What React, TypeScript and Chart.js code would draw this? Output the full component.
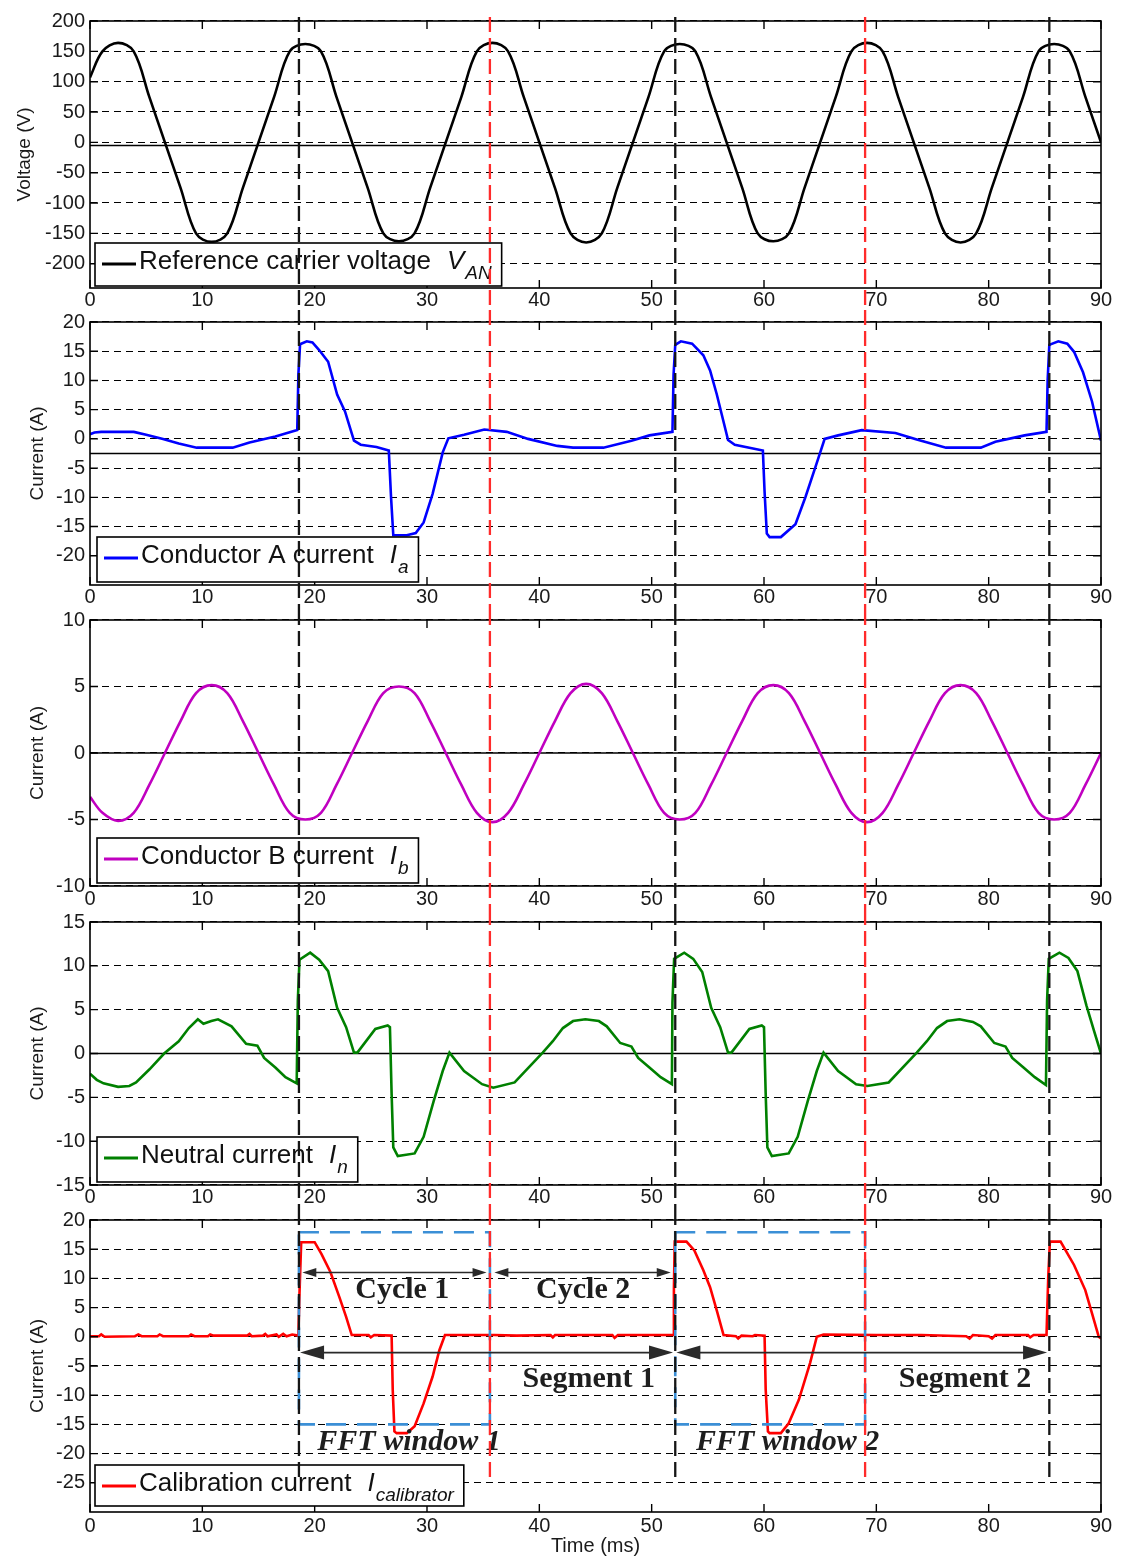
import React, { useEffect, useRef } from 'react';
import { Chart, registerables } from 'chart.js';

Chart.register(...registerables);

// ---------------- data ----------------
const timeTicks = [0, 10, 20, 30, 40, 50, 60, 70, 80, 90];

const voltageTicks = [-200, -150, -100, -50, 0, 50, 100, 150, 200];
const currentATicks = [-20, -15, -10, -5, 0, 5, 10, 15, 20];
const currentBTicks = [-10, -5, 0, 5, 10];
const neutralTicks = [-15, -10, -5, 0, 5, 10, 15];
const calibTicks = [-25, -20, -15, -10, -5, 0, 5, 10, 15, 20];

// sampled time (ms) for the two sinusoidal traces
const sineTimeMs = [
  0, 1.11, 2.5, 3.89, 5.28, 6.67, 8.06, 9.44, 10.83, 12.22, 13.61, 15.0, 16.39, 17.78,
  19.17, 20.56, 21.94, 23.33, 24.72, 26.11, 27.5, 28.89, 30.28, 31.67, 33.06, 34.44,
  35.83, 37.22, 38.61, 40.0, 41.39, 42.78, 44.17, 45.56, 46.94, 48.33, 49.72, 51.11,
  52.5, 53.89, 55.28, 56.67, 58.06, 59.44, 60.83, 62.22, 63.61, 65.0, 66.39, 67.78,
  69.17, 70.56, 71.94, 73.33, 74.72, 76.11, 77.5, 78.89, 80.28, 81.67, 83.06, 84.44,
  85.83, 87.22, 88.61, 90.0,
];
const vanVolts = [
  107, 150, 164, 150, 75, 0, -75, -150, -164, -150, -75, 0, 75, 150,
  162, 150, 75, 0, -75, -150, -163, -150, -75, 0, 75, 150,
  164, 150, 75, 0, -75, -150, -165, -150, -75, 0, 75, 150,
  162, 150, 75, 0, -75, -150, -163, -150, -75, 0, 75, 150,
  164, 150, 75, 0, -75, -150, -165, -150, -75, 0, 75, 150,
  162, 150, 75, 0,
];
const ibAmps = [
  -3.3, -4.5, -5.1, -4.5, -2.4, 0, 2.4, 4.5, 5.1, 4.5, 2.4, 0, -2.4, -4.5,
  -5.0, -4.5, -2.4, 0, 2.4, 4.5, 5.0, 4.5, 2.4, 0, -2.4, -4.5,
  -5.2, -4.5, -2.4, 0, 2.4, 4.5, 5.2, 4.5, 2.4, 0, -2.4, -4.5,
  -5.0, -4.5, -2.4, 0, 2.4, 4.5, 5.1, 4.5, 2.4, 0, -2.4, -4.5,
  -5.2, -4.5, -2.4, 0, 2.4, 4.5, 5.1, 4.5, 2.4, 0, -2.4, -4.5,
  -5.0, -4.5, -2.4, 0,
];

const iaTimeMs = [
  0.0, 0.4, 1.0, 3.9, 5.0, 6.5, 7.9, 9.5, 12.7, 14.2, 16.5, 18.45, 18.55, 18.7, 19.3, 19.8,
  20.4, 21.2, 22.0, 22.7, 23.5, 24.1, 25.5, 26.6, 26.8, 27.0, 28.2, 29.0, 29.7, 30.5, 31.4,
  31.9, 33.3, 35.1, 37.1, 39.0, 41.6, 43.0, 45.7, 48.2, 49.8, 51.85, 51.95, 52.1, 52.6, 53.6,
  54.6, 55.2, 55.8, 56.8, 57.4, 59.9, 60.05, 60.25, 60.5, 61.5, 62.8, 63.7, 64.7, 65.4, 66.6,
  68.7, 71.7, 73.6, 76.2, 79.3, 80.6, 83.2, 85.15, 85.25, 85.4, 86.2, 87.0, 87.6, 88.4, 89.2, 90.0,
];
const iaAmps = [
  0.8, 1.1, 1.2, 1.2, 0.7, 0.0, -0.8, -1.5, -1.5, -0.6, 0.4, 1.5, 11.0, 16.2, 16.7, 16.5,
  15.2, 13.2, 7.6, 4.7, -0.3, -1.0, -1.4, -2.0, -10.0, -16.5, -16.5, -16.1, -14.3, -9.4, -2.3,
  0.1, 0.7, 1.6, 1.2, 0.0, -1.2, -1.5, -1.5, -0.3, 0.6, 1.2, 11.0, 16.1, 16.7, 16.3,
  14.3, 11.7, 7.6, -0.2, -1.0, -2.0, -9.0, -16.2, -16.8, -16.8, -14.6, -9.9, -4.1, 0.0, 0.6,
  1.5, 1.0, -0.1, -1.5, -1.5, -0.5, 0.6, 1.2, 10.0, 16.1, 16.7, 16.3, 14.9, 11.4, 6.4, -0.3,
];

const inTimeMs = [
  0.0, 0.6, 1.2, 2.5, 3.5, 4.1, 5.3, 6.6, 7.9, 8.8, 9.6, 10.1, 10.8, 11.4, 12.6, 13.9, 14.9,
  15.5, 16.5, 17.4, 18.4, 18.5, 18.65, 19.6, 20.4, 21.2, 22.0, 22.8, 23.5, 23.8, 25.4, 26.5,
  26.7, 26.85, 27.0, 27.4, 28.9, 29.7, 30.6, 31.4, 32.0, 33.3, 34.9, 35.9, 37.8, 40.3, 41.2,
  42.1, 43.0, 44.1, 45.3, 46.0, 47.2, 48.2, 48.8, 49.8, 50.8, 51.8, 51.85, 52.0, 52.9, 53.7,
  54.5, 55.3, 56.1, 56.8, 57.1, 58.7, 59.8, 60.0, 60.15, 60.3, 60.7, 62.2, 63.0, 63.9, 64.7,
  65.3, 66.6, 68.2, 69.2, 71.1, 73.6, 74.5, 75.4, 76.3, 77.4, 78.6, 79.3, 80.5, 81.5, 82.1,
  83.1, 84.1, 85.1, 85.2, 85.35, 86.3, 87.1, 87.9, 88.7, 89.4, 90.0,
];
const inAmps = [
  -2.3, -3.0, -3.4, -3.8, -3.7, -3.3, -1.8, 0.0, 1.4, 2.9, 3.9, 3.4, 3.7, 3.9, 3.1, 1.1, 0.9,
  -0.5, -1.6, -2.7, -3.4, 6.0, 10.7, 11.5, 10.7, 9.4, 5.2, 3.0, 0.1, 0.1, 2.8, 3.2,
  3.0, -4.6, -10.7, -11.7, -11.4, -9.5, -5.4, -2.0, 0.1, -2.0, -3.5, -3.9, -3.3, 0.1, 1.4,
  2.9, 3.7, 3.9, 3.7, 3.1, 1.2, 0.8, -0.5, -1.6, -2.7, -3.5, 5.8, 10.8, 11.5, 10.8,
  9.3, 5.2, 3.0, 0.1, 0.1, 2.8, 3.2, 3.0, -4.6, -10.7, -11.7, -11.4, -9.5, -5.4, -2.0,
  0.1, -2.0, -3.5, -3.7, -3.3, 0.1, 1.4, 2.9, 3.7, 3.9, 3.6, 3.1, 1.2, 0.8, -0.5,
  -1.6, -2.7, -3.6, 6.0, 10.8, 11.5, 10.9, 9.4, 5.5, 2.5, 0.0,
];

const icalTimeMs = [
  0, 0.8, 1.0, 1.3, 4.0, 4.3, 4.6, 6.0, 6.2, 6.5, 8.8, 9.0, 9.3, 10.5, 10.7, 11.0, 14.0, 14.2,
  14.4, 15.4, 15.6, 15.8, 16.6, 16.8, 17.2, 17.5, 18.0, 18.55, 18.65, 18.8, 20.0, 20.6, 21.4,
  22.2, 22.8, 23.3, 24.8, 25.0, 25.3, 26.85, 26.95, 27.1, 27.3, 28.2, 28.9, 29.7, 30.5, 31.1,
  31.6, 36.0, 38.0, 41.0, 41.2, 41.4, 46.5, 46.7, 47.0, 51.9, 51.98, 52.05, 53.1, 53.8, 54.6,
  55.2, 55.8, 56.4, 57.5, 57.7, 58.0, 59.0, 59.2, 60.05, 60.15, 60.35, 60.5, 61.5, 62.2, 63.1,
  64.1, 64.7, 65.3, 70.0, 74.0, 78.0, 78.3, 78.6, 80.0, 80.3, 80.6, 83.5, 83.7, 84.0, 85.15,
  85.3, 85.45, 86.4, 87.6, 88.6, 89.2, 89.8, 90.0,
];
const icalAmps = [
  0.1, 0.1, 0.4, 0.0, 0.1, 0.4, 0.1, 0.1, 0.4, 0.1, 0.1, 0.4, 0.1, 0.1, 0.4, 0.2, 0.2, 0.5,
  0.1, 0.2, 0.5, 0.1, 0.4, 0.0, 0.5, 0.1, 0.4, 0.2, 7.5, 16.2, 16.2, 14.2, 11.1,
  6.8, 3.4, 0.3, 0.3, -0.1, 0.3, 0.2, -9.1, -16.2, -16.5, -16.5, -15.3, -11.4, -6.8, -2.3,
  0.3, 0.3, 0.2, 0.3, -0.1, 0.3, 0.3, -0.2, 0.3, 0.3, 8.0, 16.3, 16.3, 14.8, 11.4,
  8.5, 4.5, 0.3, 0.1, -0.3, 0.2, 0.1, 0.3, 0.2, -9.0, -16.2, -16.5, -16.5, -14.8, -10.8,
  -4.5, 0.0, 0.4, 0.3, 0.3, 0.1, -0.3, 0.3, 0.1, -0.3, 0.3, 0.3, -0.1, 0.3, 0.3,
  10.0, 16.3, 16.3, 12.3, 8.0, 4.0, 0.0, -0.3,
];

// vertical boundaries
const markerTimeMs = [18.6, 35.6, 52.1, 69.0, 85.4];
const markerKind = ['segment', 'fft', 'segment', 'fft', 'segment'];

// annotations in the calibration panel
const fftWindowStart = [18.6, 52.1];
const fftWindowEnd = [35.6, 69.0];
const fftWindowTop = 17.9;
const fftWindowBottom = -15;
const fftLabels = ['FFT window 1', 'FFT window 2'];
const fftLabelX = [28.4, 62.1];
const fftLabelY = -18.1;

const cycleLabels = ['Cycle 1', 'Cycle 2'];
const cycleStart = [18.9, 36.0];
const cycleEnd = [35.3, 51.7];
const cycleArrowY = 11;
const cycleLabelX = [27.8, 43.9];
const cycleLabelY = 8;

const segmentLabels = ['Segment 1', 'Segment 2'];
const segmentStart = [18.7, 52.2];
const segmentEnd = [51.9, 85.2];
const segmentArrowY = -2.7;
const segmentLabelX = [44.4, 77.9];
const segmentLabelY = -7.2;

// ---------------- styling / layout ----------------
const SANS = '"Liberation Sans", Arial, Helvetica, sans-serif';
const SERIF = '"Liberation Serif", "Times New Roman", serif';

type Legend = { text: string; sym: string; sub: string; dx: number; gap: number; h: number };
type PanelCfg = {
  top: number; height: number; padTop: number; xh: number; xPad: number;
  yMin: number; yMax: number; yTicks: number[]; yTitle: string; yTitlePad: number;
  time: number[]; values: number[]; color: string; tension: number;
  solidLine: number | null; legend: Legend;
  markerFromTop: boolean; markerToValue: number | null;
  xTitle: boolean; annotations: boolean;
};

const panels: PanelCfg[] = [
  {
    top: 0, height: 310, padTop: 21, xh: 22, xPad: 0,
    yMin: -240, yMax: 200, yTicks: voltageTicks, yTitle: 'Voltage (V)', yTitlePad: 13,
    time: sineTimeMs, values: vanVolts, color: '#000000', tension: 0.35,
    solidLine: -5,
    legend: { text: 'Reference carrier voltage', sym: 'V', sub: 'AN', dx: 5, gap: 2, h: 43 },
    markerFromTop: true, markerToValue: null, xTitle: false, annotations: false,
  },
  {
    top: 310, height: 300, padTop: 12, xh: 25, xPad: 0,
    yMin: -25, yMax: 20, yTicks: currentATicks, yTitle: 'Current (A)', yTitlePad: 26,
    time: iaTimeMs, values: iaAmps, color: '#0000ff', tension: 0,
    solidLine: -2.5,
    legend: { text: 'Conductor A current', sym: 'I', sub: 'a', dx: 7, gap: 3, h: 45 },
    markerFromTop: false, markerToValue: null, xTitle: false, annotations: false,
  },
  {
    top: 610, height: 300, padTop: 10, xh: 24, xPad: 1,
    yMin: -10, yMax: 10, yTicks: currentBTicks, yTitle: 'Current (A)', yTitlePad: 26,
    time: sineTimeMs, values: ibAmps, color: '#c000c0', tension: 0.35,
    solidLine: 0,
    legend: { text: 'Conductor B current', sym: 'I', sub: 'b', dx: 7, gap: 3, h: 45 },
    markerFromTop: false, markerToValue: null, xTitle: false, annotations: false,
  },
  {
    top: 910, height: 300, padTop: 12, xh: 25, xPad: 0,
    yMin: -15, yMax: 15, yTicks: neutralTicks, yTitle: 'Current (A)', yTitlePad: 26,
    time: inTimeMs, values: inAmps, color: '#008000', tension: 0,
    solidLine: 0,
    legend: { text: 'Neutral current', sym: 'I', sub: 'n', dx: 7, gap: 3, h: 45 },
    markerFromTop: false, markerToValue: null, xTitle: false, annotations: false,
  },
  {
    top: 1210, height: 348, padTop: 10, xh: 46, xPad: 2,
    yMin: -30, yMax: 20, yTicks: calibTicks, yTitle: 'Current (A)', yTitlePad: 26,
    time: icalTimeMs, values: icalAmps, color: '#ff0000', tension: 0,
    solidLine: null,
    legend: { text: 'Calibration current', sym: 'I', sub: 'calibrator', dx: 5, gap: 6, h: 41 },
    markerFromTop: false, markerToValue: -25, xTitle: true, annotations: true,
  },
];

function drawArrow(ctx: CanvasRenderingContext2D, x1: number, x2: number, y: number, head: number, half: number, lw: number) {
  ctx.lineWidth = lw;
  ctx.beginPath();
  ctx.moveTo(x1 + head * 0.6, y);
  ctx.lineTo(x2 - head * 0.6, y);
  ctx.stroke();
  ctx.beginPath();
  ctx.moveTo(x1, y);
  ctx.lineTo(x1 + head, y - half);
  ctx.lineTo(x1 + head, y + half);
  ctx.closePath();
  ctx.fill();
  ctx.beginPath();
  ctx.moveTo(x2, y);
  ctx.lineTo(x2 - head, y - half);
  ctx.lineTo(x2 - head, y + half);
  ctx.closePath();
  ctx.fill();
}

function drawAnnotations(ctx: CanvasRenderingContext2D, x: any, y: any) {
  ctx.save();
  ctx.strokeStyle = '#3b8fd6';
  ctx.lineWidth = 2.6;
  ctx.setLineDash([20, 11]);
  fftWindowStart.forEach((s, i) => {
    const x1 = x.getPixelForValue(s);
    const x2 = x.getPixelForValue(fftWindowEnd[i]);
    const y1 = y.getPixelForValue(fftWindowTop);
    const y2 = y.getPixelForValue(fftWindowBottom);
    ctx.strokeRect(x1, y1, x2 - x1, y2 - y1);
  });
  ctx.restore();

  ctx.save();
  ctx.setLineDash([]);
  ctx.strokeStyle = '#2a2a2a';
  ctx.fillStyle = '#2a2a2a';
  cycleStart.forEach((s, i) => {
    drawArrow(ctx, x.getPixelForValue(s), x.getPixelForValue(cycleEnd[i]), y.getPixelForValue(cycleArrowY), 14, 4.5, 1.5);
  });
  segmentStart.forEach((s, i) => {
    drawArrow(ctx, x.getPixelForValue(s), x.getPixelForValue(segmentEnd[i]), y.getPixelForValue(segmentArrowY), 24, 7, 1.8);
  });
  ctx.fillStyle = '#1e1e1e';
  ctx.textAlign = 'center';
  ctx.textBaseline = 'middle';
  ctx.font = `bold 30px ${SERIF}`;
  cycleLabels.forEach((t, i) => ctx.fillText(t, x.getPixelForValue(cycleLabelX[i]), y.getPixelForValue(cycleLabelY)));
  segmentLabels.forEach((t, i) => ctx.fillText(t, x.getPixelForValue(segmentLabelX[i]), y.getPixelForValue(segmentLabelY)));
  ctx.font = `italic bold 30px ${SERIF}`;
  fftLabels.forEach((t, i) => ctx.fillText(t, x.getPixelForValue(fftLabelX[i]), y.getPixelForValue(fftLabelY)));
  ctx.restore();
}

function drawLegend(ctx: CanvasRenderingContext2D, a: any, p: PanelCfg) {
  const L = p.legend;
  const mainFont = `26px ${SANS}`;
  const symFont = `italic 26px ${SANS}`;
  const subFont = `italic 19px ${SANS}`;
  ctx.save();
  ctx.setLineDash([]);
  ctx.font = mainFont;
  const tw = ctx.measureText(L.text).width;
  ctx.font = symFont;
  const sw = ctx.measureText(L.sym).width;
  ctx.font = subFont;
  const subw = ctx.measureText(L.sub).width;
  const bx = a.left + L.dx;
  const by = a.bottom - L.gap - L.h;
  const textX = bx + 44;
  const symX = textX + tw + 16;
  const subX = symX + sw + 1;
  const bw = subX + subw + 10 - bx;
  ctx.fillStyle = '#ffffff';
  ctx.fillRect(bx, by, bw, L.h);
  ctx.strokeStyle = '#000';
  ctx.lineWidth = 1.6;
  ctx.strokeRect(bx, by, bw, L.h);
  ctx.strokeStyle = p.color;
  ctx.lineWidth = 3;
  ctx.beginPath();
  ctx.moveTo(bx + 7, by + 21);
  ctx.lineTo(bx + 41, by + 21);
  ctx.stroke();
  ctx.fillStyle = '#111';
  ctx.textAlign = 'left';
  ctx.textBaseline = 'alphabetic';
  ctx.font = mainFont;
  ctx.fillText(L.text, textX, by + 26);
  ctx.font = symFont;
  ctx.fillText(L.sym, symX, by + 26);
  ctx.font = subFont;
  ctx.fillText(L.sub, subX, by + 36);
  ctx.restore();
}

function makeDeco(p: PanelCfg) {
  return {
    id: 'panelDeco',
    beforeDatasetsDraw(chart: any) {
      const { ctx, chartArea: a } = chart;
      const y = chart.scales.y;
      if (p.solidLine !== null) {
        const py = y.getPixelForValue(p.solidLine);
        ctx.save();
        ctx.setLineDash([]);
        ctx.strokeStyle = '#000';
        ctx.lineWidth = 1.5;
        ctx.beginPath();
        ctx.moveTo(a.left, py);
        ctx.lineTo(a.right, py);
        ctx.stroke();
        ctx.restore();
      }
    },
    afterDatasetsDraw(chart: any) {
      const { ctx, chartArea: a } = chart;
      const x = chart.scales.x;
      const y = chart.scales.y;
      ctx.save();
      ctx.setLineDash([]);
      ctx.strokeStyle = '#000';
      ctx.lineWidth = 1.6;
      ctx.strokeRect(a.left, a.top, a.right - a.left, a.bottom - a.top);
      ctx.lineWidth = 1.4;
      ctx.beginPath();
      timeTicks.forEach((v) => {
        const px = x.getPixelForValue(v);
        ctx.moveTo(px, a.bottom);
        ctx.lineTo(px, a.bottom - 8);
        ctx.moveTo(px, a.top);
        ctx.lineTo(px, a.top + 8);
      });
      p.yTicks.forEach((v) => {
        const py = y.getPixelForValue(v);
        ctx.moveTo(a.left, py);
        ctx.lineTo(a.left + 8, py);
        ctx.moveTo(a.right, py);
        ctx.lineTo(a.right - 8, py);
      });
      ctx.stroke();
      ctx.restore();
      if (p.annotations) drawAnnotations(ctx, x, y);
      drawLegend(ctx, a, p);
    },
    afterDraw(chart: any) {
      const { ctx, chartArea: a } = chart;
      const x = chart.scales.x;
      const y = chart.scales.y;
      const y0 = p.markerFromTop ? a.top - 4 : 0;
      const y1 = p.markerToValue !== null ? y.getPixelForValue(p.markerToValue) : chart.height;
      ctx.save();
      ctx.lineWidth = 2.3;
      ctx.setLineDash([15, 6]);
      markerTimeMs.forEach((t, i) => {
        ctx.strokeStyle = markerKind[i] === 'fft' ? '#ff2b2b' : '#151515';
        const px = x.getPixelForValue(t);
        ctx.beginPath();
        ctx.moveTo(px, y0);
        ctx.lineTo(px, y1);
        ctx.stroke();
      });
      ctx.restore();
    },
  };
}

function makeConfig(p: PanelCfg) {
  const tickFont = { family: SANS, size: 20 };
  return {
    type: 'line',
    data: {
      datasets: [
        {
          data: p.time.map((t, i) => ({ x: t, y: p.values[i] })),
          borderColor: p.color,
          borderWidth: 2.6,
          pointRadius: 0,
          tension: p.tension,
          fill: false,
        },
      ],
    },
    options: {
      animation: false,
      responsive: false,
      events: [],
      layout: { padding: { left: 0, right: 21, top: p.padTop, bottom: 0 } },
      plugins: { legend: { display: false }, tooltip: { enabled: false }, title: { display: false } },
      scales: {
        x: {
          type: 'linear',
          min: 0,
          max: 90,
          afterBuildTicks: (s: any) => { s.ticks = timeTicks.map((v) => ({ value: v })); },
          afterFit: (s: any) => { s.height = p.xh; s.paddingLeft = 0; s.paddingRight = 0; },
          grid: { display: false, drawTicks: false },
          border: { display: false },
          ticks: { font: tickFont, color: '#1a1a1a', padding: p.xPad, maxRotation: 0, autoSkip: false, callback: (v: any) => String(v) },
          title: p.xTitle
            ? { display: true, text: 'Time (ms)', font: { family: SANS, size: 20 }, color: '#1a1a1a', padding: { top: 0, bottom: 0 } }
            : { display: false },
        },
        y: {
          type: 'linear',
          min: p.yMin,
          max: p.yMax,
          afterBuildTicks: (s: any) => { s.ticks = p.yTicks.map((v) => ({ value: v })); },
          afterFit: (s: any) => { s.width = 90; s.paddingTop = 0; s.paddingBottom = 0; },
          grid: { color: '#000000', lineWidth: 1.1, drawTicks: false },
          border: { display: false, dash: [7, 5] },
          ticks: { font: tickFont, color: '#1a1a1a', padding: 5, autoSkip: false, callback: (v: any) => String(v) },
          title: { display: true, text: p.yTitle, font: { family: SANS, size: 19 }, color: '#1a1a1a', padding: { top: p.yTitlePad, bottom: 0 } },
        },
      },
    },
    plugins: [makeDeco(p)],
  };
}

function Panel({ p }: { p: PanelCfg }) {
  const ref = useRef<HTMLCanvasElement>(null);
  useEffect(() => {
    if (!ref.current) return;
    const chart = new Chart(ref.current, makeConfig(p) as any);
    return () => chart.destroy();
  }, []);
  return (
    <canvas
      ref={ref}
      width={1122}
      height={p.height}
      style={{ position: 'absolute', left: 0, top: p.top, width: 1122, height: p.height, display: 'block' }}
    />
  );
}

export default function App() {
  return (
    <div style={{ position: 'absolute', left: 0, top: 0, width: 1122, height: 1558, background: '#ffffff', overflow: 'hidden' }}>
      {panels.map((p, i) => (
        <Panel key={i} p={p} />
      ))}
    </div>
  );
}
